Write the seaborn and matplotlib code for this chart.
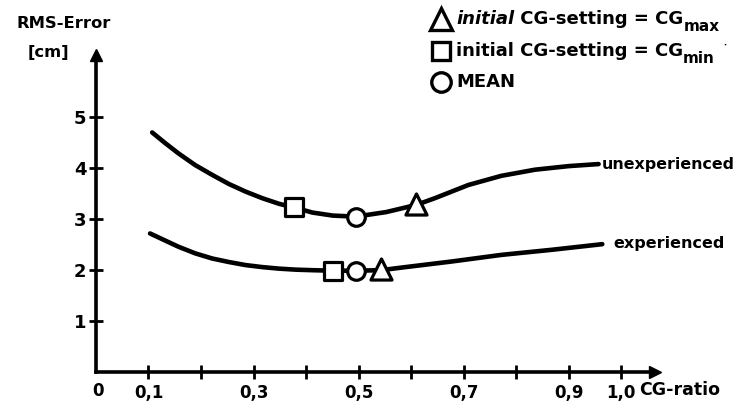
import pandas as pd
import matplotlib
matplotlib.use("Agg")
import matplotlib.pyplot as plt
import seaborn as sns

# values
unexp_x = [0.107, 0.132, 0.157, 0.189, 0.221, 0.253, 0.285, 0.317, 0.349, 0.377, 0.412, 0.451,
           0.495, 0.553, 0.61, 0.645, 0.709, 0.772, 0.836, 0.9, 0.957]
unexp_y = [4.69, 4.48, 4.28, 4.05, 3.86, 3.68, 3.53, 3.40, 3.29, 3.22, 3.12, 3.06,
           3.04, 3.13, 3.27, 3.40, 3.66, 3.84, 3.96, 4.03, 4.07]
exp_x = [0.103, 0.132, 0.157, 0.189, 0.221, 0.253, 0.285, 0.317, 0.349, 0.381, 0.412, 0.451,
         0.495, 0.543, 0.581, 0.677, 0.772, 0.868, 0.964]
exp_y = [2.71, 2.57, 2.45, 2.32, 2.22, 2.15, 2.09, 2.05, 2.02, 2.00, 1.99, 1.98,
         1.98, 1.99, 2.04, 2.16, 2.29, 2.39, 2.50]

# markers: CG_min (square), mean (circle), CG_max (triangle)
unexp_marks_x = [0.377, 0.495, 0.61]
unexp_marks_y = [3.22, 3.04, 3.28]
exp_marks_x = [0.452, 0.495, 0.543]
exp_marks_y = [1.98, 1.98, 2.01]
mark_kinds = ["s", "o", "^"]
mark_sizes = [150, 160, 230]

x_ticks = [0.1, 0.2, 0.3, 0.4, 0.5, 0.6, 0.7, 0.8, 0.9, 1.0]
x_labels = ["0,1", "", "0,3", "", "0,5", "", "0,7", "", "0,9", "1,0"]
y_ticks = [1, 2, 3, 4, 5]


def after(ax, prev, txt, dy=0, **kw):
    # place a text right after the previous one
    return ax.annotate(txt, xy=(1, 0), xycoords=prev, xytext=(0, dy),
                       textcoords="offset points", ha="left", va="bottom",
                       color="black", fontweight="bold", annotation_clip=False, **kw)


def main():
    sns.set_style("white")
    plt.rcParams["font.family"] = ["DejaVu Sans"]
    plt.rcParams["font.weight"] = "bold"
    plt.rcParams["text.color"] = "black"

    fig = plt.figure(figsize=(7.38, 4.05), dpi=100)
    ax = fig.add_axes([0.130, 0.0822, 0.758, 0.781])

    df_u = pd.DataFrame({"x": unexp_x, "y": unexp_y})
    df_e = pd.DataFrame({"x": exp_x, "y": exp_y})
    sns.lineplot(data=df_u, x="x", y="y", ax=ax, color="black", lw=3.3,
                 sort=False, solid_capstyle="round", solid_joinstyle="round")
    sns.lineplot(data=df_e, x="x", y="y", ax=ax, color="black", lw=3.3,
                 sort=False, solid_capstyle="round", solid_joinstyle="round")

    for mx, my, mk, ms in zip(unexp_marks_x + exp_marks_x, unexp_marks_y + exp_marks_y,
                              mark_kinds * 2, mark_sizes * 2):
        sns.scatterplot(x=[mx], y=[my], ax=ax, marker=mk, s=ms, facecolor="white",
                        edgecolor="black", linewidth=2.3, zorder=5)

    ax.set_xlim(0, 1.065)
    ax.set_ylim(0, 6.2)
    sns.despine(ax=ax)
    for side in ["left", "bottom"]:
        ax.spines[side].set_linewidth(2.6)
        ax.spines[side].set_color("black")
    # arrow heads
    ax.plot(1.065, 0, ">", color="black", ms=9, clip_on=False)
    ax.plot(0, 6.2, "^", color="black", ms=9, clip_on=False)

    ax.set_xticks(x_ticks)
    ax.set_xticklabels(x_labels, fontsize=12, fontweight="bold")
    ax.set_yticks(y_ticks)
    ax.set_yticklabels([str(v) for v in y_ticks], fontsize=13, fontweight="bold")
    ax.tick_params(bottom=True, left=True, direction="inout", length=10, width=2,
                   colors="black", pad=4)
    ax.tick_params(axis="y", pad=2)
    ax.set_xlabel("")
    ax.set_ylabel("")

    ax.text(0.003, -0.37, "0", ha="center", va="center", fontsize=12, fontweight="bold")
    ax.text(1.035, -0.35, "CG-ratio", ha="left", va="center", fontsize=12.5, fontweight="bold")
    fig.text(17 / 738, 1 - 23 / 405, "RMS-Error", ha="left", va="center", fontsize=11.8, fontweight="bold")
    fig.text(28 / 738, 1 - 53 / 405, "[cm]", ha="left", va="center", fontsize=11.8, fontweight="bold")

    ax.text(0.963, 4.07, "unexperienced", ha="left", va="center", fontsize=11.4, fontweight="bold")
    ax.text(0.985, 2.51, "experienced", ha="left", va="center", fontsize=11.5, fontweight="bold")

    # legend, drawn in figure pixels
    leg_y = [19, 51, 82]
    leg_marks = ["^", "s", "o"]
    leg_ms = [16, 13, 14]
    for mk, yy, ms in zip(leg_marks, leg_y, leg_ms):
        fig.lines.append(plt.Line2D([441 / 738], [1 - yy / 405], marker=mk, ms=ms, mfc="white",
                                    mec="black", mew=2.4, transform=fig.transFigure))
    t1 = fig.text(456 / 738, 1 - leg_y[0] / 405, "initial", ha="left", va="center",
                  fontsize=13, fontweight="bold", fontstyle="italic")
    t1b = after(ax, t1, " CG-setting = CG", fontsize=13)
    after(ax, t1b, "max", dy=-4, fontsize=11)
    t2 = fig.text(456 / 738, 1 - leg_y[1] / 405, "initial CG-setting = CG", ha="left", va="center",
                  fontsize=13, fontweight="bold")
    t2b = after(ax, t2, "min", dy=-4, fontsize=11)
    after(ax, t2b, "  \u02d9", dy=8, fontsize=8)
    fig.text(456 / 738, 1 - leg_y[2] / 405, "MEAN", ha="left", va="center",
             fontsize=13, fontweight="bold")

    fig.savefig("out.png", dpi=100)


if __name__ == "__main__":
    main()
